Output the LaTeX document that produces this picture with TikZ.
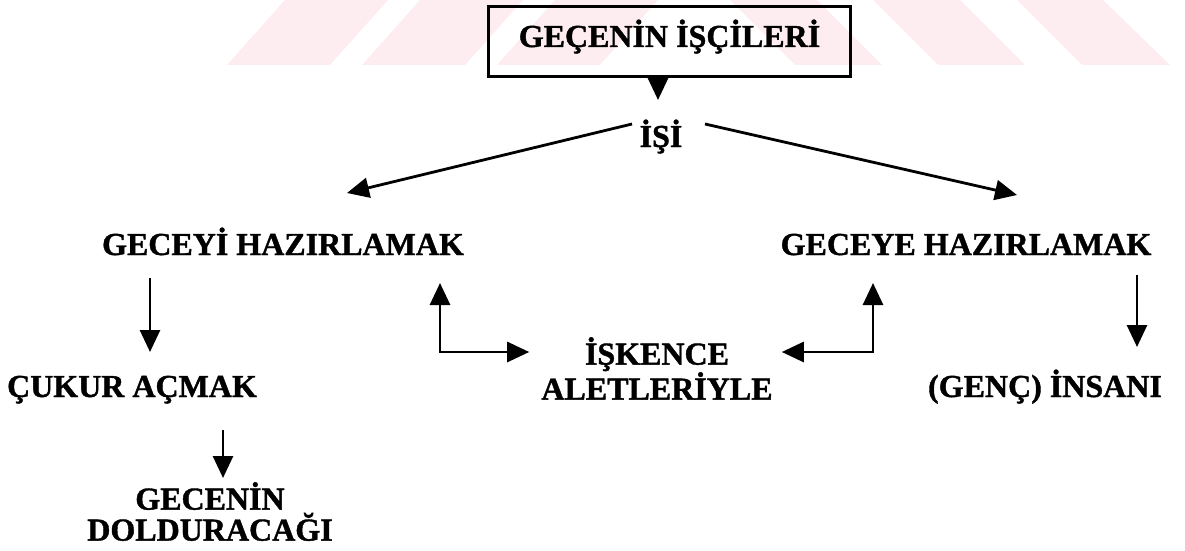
\documentclass[tikz,border=0pt]{standalone}
\usepackage{fontspec}
\setmainfont{Liberation Serif}[BoldFeatures={FakeBold=1.2}]
\usetikzlibrary{arrows.meta}
\definecolor{wmpink}{RGB}{253,237,240}

\begin{document}
\begin{tikzpicture}[x=1pt,y=-1pt,
    lbl/.style={font=\fontsize{32}{35}\selectfont\bfseries,inner sep=0pt,anchor=base},
    arr/.style={line width=2.8pt,-{Triangle[length=22pt,width=20pt]}},
    darr/.style={line width=2.8pt,{Triangle[length=22pt,width=20pt]}-{Triangle[length=22pt,width=20pt]}}]
  \useasboundingbox (0,0) rectangle (1185,551);
  % watermark
  \fill[wmpink] (227,65) -- (330,65) -- (388,0) -- (285,0) -- cycle;
  \fill[wmpink] (362,65) -- (465,65) -- (523,0) -- (420,0) -- cycle;
  \fill[wmpink] (497,65) -- (600,65) -- (658,0) -- (555,0) -- cycle;
  \fill[wmpink] (730,0) -- (817,0) -- (882,65) -- (795,65) -- cycle;
  \fill[wmpink] (873,0) -- (960,0) -- (1025,65) -- (938,65) -- cycle;
  \fill[wmpink] (1017,0) -- (1103,0) -- (1170,65) -- (1082,65) -- cycle;

  \node[lbl,anchor=center,draw,line width=2.4pt,minimum width=362pt,minimum height=70pt,
    text height=22pt,text depth=11pt] (title) at (669.5,41.5) {GEÇENİN İŞÇİLERİ};
  \node[lbl] (isi) at (661,147) {İŞİ};
  \node[lbl] (gecey) at (283,255) {GECEYİ HAZIRLAMAK};
  \node[lbl] (geceye) at (966,255) {GECEYE HAZIRLAMAK};
  \node[lbl] (cukur) at (132,397) {ÇUKUR AÇMAK};
  \node[lbl,align=center,anchor=north] (iskence) at (657,337) {İŞKENCE\\ALETLERİYLE};
  \node[lbl] (insan) at (1045,397) {(GENÇ) İNSANI};
  \node[lbl,align=center,anchor=north] (doldur) at (210,482) {GECENİN\\[-4pt]DOLDURACAĞI};

  \draw[arr] ([shift={(-11.5,0)}]title.south) -- ([shift={(-3,-47)}]isi.base);
  \draw[arr] ([shift={(-29,-23)}]isi.base) -- ([shift={(64,-62)}]gecey.base);
  \draw[arr] ([shift={(44,-23)}]isi.base) -- ([shift={(51,-60)}]geceye.base);
  \draw[arr] ([shift={(-133,23)}]gecey.base) -- ([shift={(18,-45)}]cukur.base);
  \draw[darr] ([shift={(157,28)}]gecey.base) |- ([shift={(-12,15)}]iskence.north west);
  \draw[darr] ([shift={(-93,28)}]geceye.base) |- ([shift={(9,15)}]iskence.north east);
  \draw[arr] ([shift={(171,20)}]geceye.base) -- ([shift={(92,-50)}]insan.base);
  \draw[arr] ([shift={(91,33)}]cukur.base) -- ([shift={(13,-4)}]doldur.north);
\end{tikzpicture}
\end{document}
